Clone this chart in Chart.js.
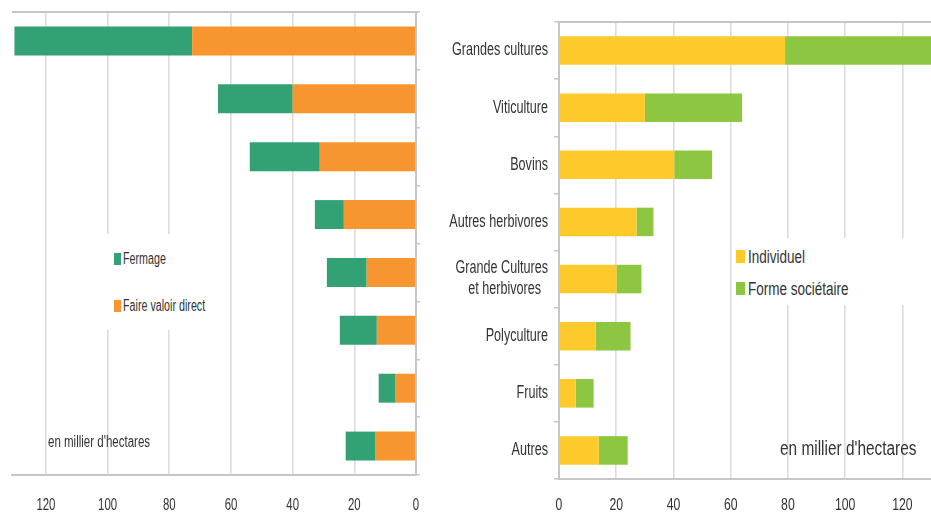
<!DOCTYPE html>
<html>
<head>
<meta charset="utf-8">
<script src="https://cdn.jsdelivr.net/npm/chart.js@4"></script>
<style>
  html, body { margin: 0; padding: 0; background: #fff; }
  body {
    width: 931px; height: 516px; position: relative; overflow: hidden;
    font-family: "Liberation Sans", Arial, sans-serif;
    color: #333;
  }
  .panel { position: absolute; top: 0; height: 516px; }
  #left { left: 0; width: 430px; }
  #right { left: 430px; width: 501px; }
  .legend { position: absolute; background: #fff; }
  .legend .sw { position: absolute; }
  .legend .lb, .note { position: absolute; white-space: nowrap; transform-origin: 0 50%; }
</style>
</head>
<body>
<div class="panel" id="left"><canvas id="tenure"></canvas></div>
<div class="panel" id="right"><canvas id="status"></canvas></div>
<div class="legend" id="legTenure" style="left:102px;top:234px;width:118px;height:96px"></div>
<div class="legend" id="legStatus" style="left:733px;top:238px;width:180px;height:67px"></div>
<div class="note" style="left:48px;top:431px;font-size:16px;line-height:22px;transform:scaleX(0.72)">en millier d'hectares</div>
<div class="note" style="left:780px;top:435px;font-size:19.5px;line-height:26px;transform:scaleX(0.79)">en millier d'hectares</div>

<script>
// Orientation technico-économique des exploitations
const categories = [
  'Grandes cultures',
  'Viticulture',
  'Bovins',
  'Autres herbivores',
  ['Grande Cultures', 'et herbivores  '],
  'Polyculture',
  'Fruits',
  'Autres'
];

// Surfaces par mode de faire-valoir (milliers d'hectares)
const faireValoirDirect = [72.6, 40.0, 31.2, 23.4, 16.0, 12.7, 6.6, 13.1];
const fermage           = [57.6, 24.2, 22.7, 9.4, 12.9, 12.0, 5.5, 9.7];

// Surfaces par statut juridique (milliers d'hectares)
const individuel      = [79.0, 30.0, 40.3, 27.1, 20.1, 12.8, 5.8, 13.9];
const formeSocietaire = [51.2, 34.0, 13.2, 5.9, 8.7, 12.2, 6.3, 10.1];

// Axe des valeurs
const tickStep = 20;
const tenureAxisMax = 131;
const statusAxisMax = 130;

Chart.defaults.font.family = '"Liberation Sans", Arial, sans-serif';
Chart.defaults.color = '#333';

const GRID = '#dcdcdc';
const AXIS = '#c6c6c6';

// Texte du canevas rendu en style condensé (compression horizontale autour du point d'ancrage)
function condensedText(factor) {
  return {
    id: 'condensedText',
    beforeInit(chart) {
      const ctx = chart.ctx;
      const fill = ctx.fillText.bind(ctx);
      ctx.fillText = function (text, x, y, maxWidth) {
        ctx.save();
        ctx.translate(x, y);
        ctx.scale(factor, 1);
        if (maxWidth === undefined) fill(text, 0, 0);
        else fill(text, 0, 0, maxWidth / factor);
        ctx.restore();
      };
    }
  };
}

// Filet horizontal en haut de la zone de tracé
const topRule = {
  id: 'topRule',
  afterDraw(chart) {
    const { ctx, chartArea: a } = chart;
    ctx.save();
    ctx.strokeStyle = AXIS;
    ctx.lineWidth = 2;
    ctx.beginPath();
    ctx.moveTo(a.left, a.top);
    ctx.lineTo(a.right + 2, a.top);
    ctx.stroke();
    ctx.restore();
  }
};

function barOptions(cfg) {
  return {
    indexAxis: 'y',
    responsive: true,
    maintainAspectRatio: false,
    animation: false,
    layout: { padding: cfg.padding },
    plugins: { legend: { display: false }, tooltip: { enabled: false } },
    datasets: { bar: { categoryPercentage: 1, barPercentage: 0.5, borderWidth: 0 } },
    scales: {
      x: {
        type: 'linear',
        stacked: true,
        reverse: cfg.reverse,
        min: 0,
        max: cfg.max,
        ticks: { stepSize: tickStep, includeBounds: false, padding: 0, font: { size: 17 }, color: '#333' },
        grid: { color: GRID, lineWidth: 1.6, drawTicks: true, tickLength: cfg.xTickLength, tickColor: 'rgba(0,0,0,0)' },
        border: { color: AXIS, width: 2 },
        afterFit(scale) { scale.height = cfg.xHeight; }
      },
      y: {
        type: 'category',
        stacked: true,
        position: cfg.yPosition,
        ticks: { display: cfg.showLabels, padding: 6, autoSkip: false, font: { size: 17.5 }, color: '#333' },
        grid: { drawOnChartArea: false, drawTicks: true, tickLength: cfg.yTickLength, tickColor: AXIS, lineWidth: 1.5, offset: true },
        border: { color: AXIS, width: 2 },
        afterFit(scale) { scale.width = cfg.yWidth; }
      }
    }
  };
}

const tenureChart = new Chart(document.getElementById('tenure'), {
  type: 'bar',
  data: {
    labels: categories,
    datasets: [
      { label: 'Faire valoir direct', data: faireValoirDirect, backgroundColor: '#F7962E' },
      { label: 'Fermage', data: fermage, backgroundColor: '#32A274' }
    ]
  },
  options: barOptions({
    padding: { left: 12, top: 12, right: 0, bottom: 0 },
    reverse: true, max: tenureAxisMax, xTickLength: 20, xHeight: 41,
    yPosition: 'right', showLabels: false, yTickLength: 4, yWidth: 14
  }),
  plugins: [condensedText(0.67), topRule]
});

const statusChart = new Chart(document.getElementById('status'), {
  type: 'bar',
  data: {
    labels: categories,
    datasets: [
      { label: 'Individuel', data: individuel, backgroundColor: '#FDC92B' },
      { label: 'Forme sociétaire', data: formeSocietaire, backgroundColor: '#8DC641' }
    ]
  },
  options: barOptions({
    padding: { left: 0, top: 22, right: 0, bottom: 0 },
    reverse: false, max: statusAxisMax, xTickLength: 16, xHeight: 37,
    yPosition: 'left', showLabels: true, yTickLength: 5, yWidth: 129
  }),
  plugins: [condensedText(0.72), topRule]
});

// Légendes HTML construites à partir des séries
function buildLegend(el, chart, order, layout) {
  order.forEach((di, k) => {
    const ds = chart.data.datasets[di];
    const top = layout.tops[k];
    const sw = document.createElement('div');
    sw.className = 'sw';
    sw.style.cssText = `left:${layout.swLeft}px;top:${top}px;width:${layout.swW}px;height:${layout.swH}px;background:${ds.backgroundColor}`;
    const lb = document.createElement('div');
    lb.className = 'lb';
    lb.textContent = ds.label;
    lb.style.cssText = `left:${layout.txLeft}px;top:${top + layout.swH / 2 - layout.lh / 2}px;line-height:${layout.lh}px;font-size:${layout.fs}px;transform:scaleX(${layout.sx})`;
    el.appendChild(sw);
    el.appendChild(lb);
  });
}

buildLegend(document.getElementById('legTenure'), tenureChart, [1, 0],
  { tops: [19, 66], swLeft: 12, swW: 7, swH: 12, txLeft: 21, lh: 20, fs: 16, sx: 0.67 });
buildLegend(document.getElementById('legStatus'), statusChart, [0, 1],
  { tops: [12, 44], swLeft: 3, swW: 9, swH: 13, txLeft: 15, lh: 24, fs: 18, sx: 0.75 });
</script>
</body>
</html>
